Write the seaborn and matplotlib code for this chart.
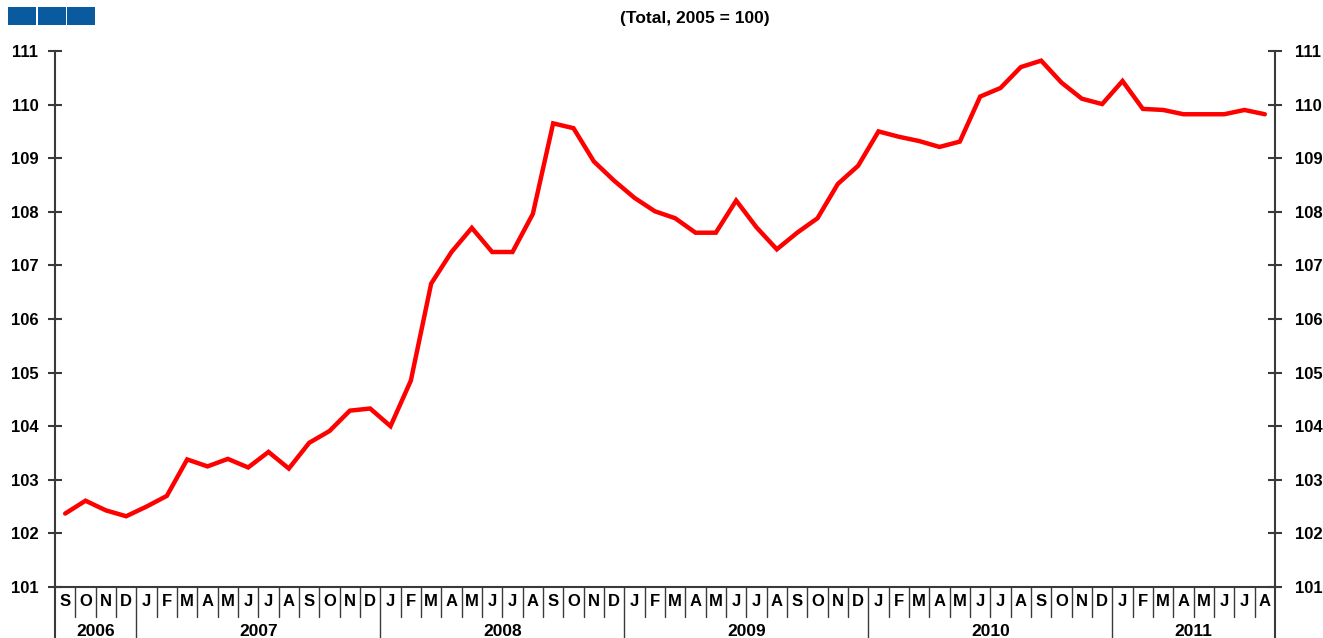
import matplotlib
matplotlib.use("Agg")
import matplotlib.pyplot as plt
from matplotlib.patches import Rectangle
from matplotlib.lines import Line2D
import matplotlib.transforms as mtrans
import seaborn as sns
import pandas as pd
import numpy as np

# ---- data ----
month_letters = ["S", "O", "N", "D",
                 "J", "F", "M", "A", "M", "J", "J", "A", "S", "O", "N", "D",
                 "J", "F", "M", "A", "M", "J", "J", "A", "S", "O", "N", "D",
                 "J", "F", "M", "A", "M", "J", "J", "A", "S", "O", "N", "D",
                 "J", "F", "M", "A", "M", "J", "J", "A", "S", "O", "N", "D",
                 "J", "F", "M", "A", "M", "J", "J", "A"]
years = ["2006", "2007", "2008", "2009", "2010", "2011"]
months_per_year = [4, 12, 12, 12, 12, 8]
index_values = [102.37, 102.61, 102.43, 102.32, 102.50, 102.70,
                103.38, 103.25, 103.39, 103.23, 103.52, 103.21,
                103.69, 103.91, 104.29, 104.33, 104.00, 104.85,
                106.66, 107.25, 107.70, 107.25, 107.25, 107.96,
                109.65, 109.56, 108.94, 108.58, 108.26, 108.01,
                107.88, 107.61, 107.61, 108.21, 107.71, 107.30,
                107.61, 107.88, 108.52, 108.86, 109.50, 109.40,
                109.32, 109.21, 109.31, 110.15, 110.31, 110.70,
                110.82, 110.41, 110.11, 110.01, 110.44, 109.92,
                109.90, 109.82, 109.82, 109.82, 109.90, 109.82]
yticks = [101, 102, 103, 104, 105, 106, 107, 108, 109, 110, 111]
title_text = "(Total, 2005 = 100)"

sns.set_style("white")
plt.rcParams["font.family"] = ["Liberation Sans", "DejaVu Sans"]

W, H = 1323, 638
fig = plt.figure(figsize=(W / 100, H / 100), dpi=100)
left_px, right_px, top_px, bot_px = 55, 1275, 51, 587
ax = fig.add_axes([left_px / W, 1 - bot_px / H,
                   (right_px - left_px) / W, (bot_px - top_px) / H])

df = pd.DataFrame({"pos": np.arange(len(index_values)), "value": index_values})
sns.lineplot(data=df, x="pos", y="value", ax=ax, color="#ff0000",
             linewidth=3.2, solid_joinstyle="miter")

n = len(index_values)
ax.set_xlim(-0.5, n - 0.5)
ax.set_ylim(101, 111)
ax.set_yticks(yticks)
ax.set_xticks([])
ax.set_xlabel("")
ax.set_ylabel("")

axis_col = "#3a3a3a"
for side in ["left", "right", "bottom"]:
    ax.spines[side].set_visible(True)
    ax.spines[side].set_color(axis_col)
    ax.spines[side].set_linewidth(1.5)
ax.spines["top"].set_visible(False)

tick_fs = 12
ax.tick_params(axis="y", which="both", direction="inout", length=10,
               width=1.5, color=axis_col, left=True, right=True,
               labelleft=True, labelright=True, labelsize=tick_fs, pad=7,
               labelcolor="black")
for t in ax.yaxis.get_major_ticks():
    t.label1.set_fontweight("bold")
    t.label2.set_fontweight("bold")
    t.label2.set_transform(t.label2.get_transform() +
                           mtrans.ScaledTranslation(2.5 / 72, 0, fig.dpi_scale_trans))

# bottom month / year boxes
trans = mtrans.blended_transform_factory(ax.transData, ax.transAxes)
hpx = bot_px - top_px
month_y = -(601 - bot_px) / hpx
month_sep_bot = -(617 - bot_px) / hpx
year_y = -(632 - bot_px) / hpx
year_sep_bot = -(640 - bot_px) / hpx

for i, m in enumerate(month_letters):
    ax.text(i, month_y, m, transform=trans, ha="center", va="center",
            fontsize=12, fontweight="bold", color="black", clip_on=False)

boundaries = np.cumsum(months_per_year)
year_bounds = set((boundaries[:-1] - 0.5).tolist())
for i in range(1, n):
    b = i - 0.5
    bottom = year_sep_bot if b in year_bounds else month_sep_bot
    ax.add_line(Line2D([b, b], [0, bottom], transform=trans, color=axis_col,
                       linewidth=1.0, clip_on=False))
for b in [-0.5, n - 0.5]:
    ax.add_line(Line2D([b, b], [0, year_sep_bot], transform=trans, color=axis_col,
                       linewidth=1.5, clip_on=False))

start = 0
for yr, cnt in zip(years, months_per_year):
    center = start + (cnt - 1) / 2
    ax.text(center, year_y, yr, transform=trans, ha="center", va="center",
            fontsize=12.5, fontweight="bold", color="black", clip_on=False)
    start += cnt

# title
fig.text(695 / W, 1 - 18 / H, title_text, ha="center", va="center",
         fontsize=12.5, fontweight="bold", color="black")

# blue squares at top-left
for x0 in [8, 38, 67]:
    fig.patches.append(Rectangle((x0 / W, 1 - 25 / H), 28 / W, 18 / H,
                                 transform=fig.transFigure, facecolor="#0a5aa0",
                                 edgecolor="none"))

fig.savefig("out.png", dpi=100)
